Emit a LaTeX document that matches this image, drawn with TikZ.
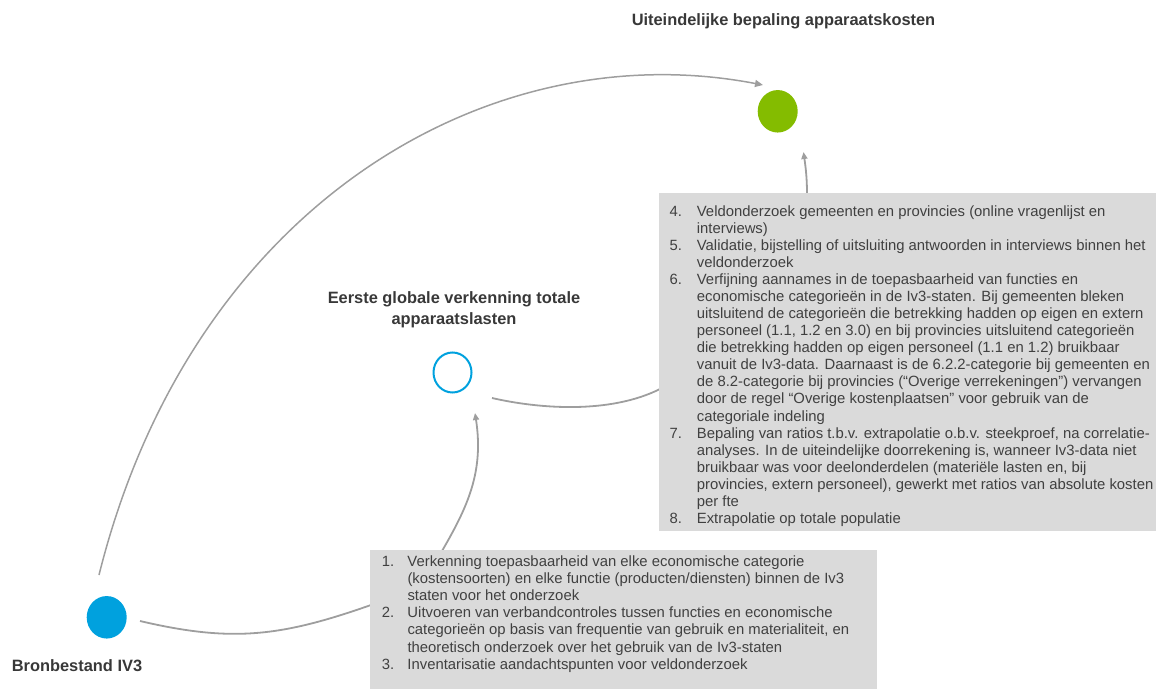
\documentclass[tikz,border=0pt]{standalone}
\usepackage{fontspec}
\setmainfont{Liberation Sans}
\usetikzlibrary{arrows.meta,shapes.geometric}
\definecolor{dotgreen}{HTML}{84BC00}
\definecolor{dotblue}{HTML}{00A1DE}
\definecolor{linegray}{HTML}{9E9E9E}
\definecolor{boxgray}{HTML}{DADADA}
\definecolor{txtgray}{HTML}{404040}
\definecolor{headgray}{HTML}{383838}
\newcommand{\numitem}[1]{\makebox[27.4pt][l]{#1}}
\newcommand{\contline}{\hspace*{27.4pt}}
\newcommand{\numitemb}[1]{\makebox[25.6pt][l]{#1}}
\newcommand{\contlineb}{\hspace*{25.6pt}}
\begin{document}
\begin{tikzpicture}[x=1pt,y=-1pt,
  conn/.style={draw=linegray, line width=1.8pt},
  bigarr/.style={draw=linegray, line width=1.5pt, -{Triangle[length=8pt,width=7pt]}},
  arr/.style={conn, -{Triangle[length=7pt,width=6pt]}},
  dotfill/.style={ellipse, minimum width=40pt, minimum height=42.5pt, inner sep=0pt, draw=none},
  graybox/.style={fill=boxgray, draw=none, inner sep=0pt, anchor=north west},
  heading/.style={font=\fontsize{16.4}{21.5}\selectfont\bfseries, text=headgray, align=center, inner sep=0pt},
  listtext/.style={font=\fontsize{14.85}{17.07}\selectfont, text=txtgray, align=left, inner sep=0pt, anchor=north west}
]
\useasboundingbox (0,0) rectangle (1156,688);

% connectors (drawn first)
\coordinate (bigs) at (99,575);
\coordinate (bige) at (763,85);
\draw[bigarr] (bigs) .. controls (191,206) and (488,32) .. (bige);

\coordinate (bots) at (140,621);
\coordinate (bote) at (371,605);
\draw[conn] (bots) .. controls (232,642.6) and (280.7,636.7) .. (bote);

\coordinate (ups) at (442,551);
\coordinate (upe) at (475,413);
\draw[arr] (ups) .. controls (467.5,507) and (484,472) .. (upe);

\coordinate (mids) at (492,398);
\coordinate (mide) at (660,389);
\draw[conn] (mids) .. controls (540,409) and (610,414) .. (mide);

\coordinate (tops) at (807,194);
\coordinate (tope) at (803.5,152);
\draw[arr] (tops) .. controls (807,175) and (805,163) .. (tope);

% dots
\node[dotfill, fill=dotgreen] (green) at (777.7,111.3) {};
\node[dotfill, fill=dotblue] (blue) at (106.7,617.3) {};
\node[ellipse, minimum width=38pt, minimum height=40pt, inner sep=0pt, draw=dotblue, line width=2pt] (hollow) at (452.5,372.5) {};

% headings
\node[heading, anchor=base] (h1) at (783.5,25) {Uiteindelijke bepaling apparaatskosten};
\node[heading, anchor=north] (h2) at (454,291) {Eerste globale verkenning totale\\apparaatslasten};
\node[heading, anchor=base] (h3) at (77,671.7) {Bronbestand IV3};

% boxes
\node[graybox, minimum width=497pt, minimum height=338pt] (box2) at (659,193) {};
\node[graybox, minimum width=507pt, minimum height=140pt] (box1) at (370,550) {};

\node[listtext] (list2) at (669.3,204.1) {\rule{0pt}{11.9pt}\numitem{4.}Veldonderzoek gemeenten en provincies (online vragenlijst en\\
\contline interviews)\\
\numitem{5.}Validatie, bijstelling of uitsluiting antwoorden in interviews binnen het\\
\contline veldonderzoek\\
\numitem{6.}Verfijning aannames in de toepasbaarheid van functies en\\
\contline economische categorieën in de Iv3-staten. Bij gemeenten bleken\\
\contline uitsluitend de categorieën die betrekking hadden op eigen en extern\\
\contline personeel (1.1, 1.2 en 3.0) en bij provincies uitsluitend categorieën\\
\contline die betrekking hadden op eigen personeel (1.1 en 1.2) bruikbaar\\
\contline vanuit de Iv3-data. Daarnaast is de 6.2.2-categorie bij gemeenten en\\
\contline de 8.2-categorie bij provincies (“Overige verrekeningen”) vervangen\\
\contline door de regel “Overige kostenplaatsen” voor gebruik van de\\
\contline categoriale indeling\\
\numitem{7.}Bepaling van ratios t.b.v. extrapolatie o.b.v. steekproef, na correlatie-\\
\contline analyses. In de uiteindelijke doorrekening is, wanneer Iv3-data niet\\
\contline bruikbaar was voor deelonderdelen (materiële lasten en, bij\\
\contline provincies, extern personeel), gewerkt met ratios van absolute kosten\\
\contline per fte\\
\numitem{8.}Extrapolatie op totale populatie};

\node[listtext] (list1) at (381.7,554.6) {\rule{0pt}{11.9pt}\numitemb{1.}Verkenning toepasbaarheid van elke economische categorie\\
\contlineb(kostensoorten) en elke functie (producten/diensten) binnen de Iv3\\
\contlineb staten voor het onderzoek\\
\numitemb{2.}Uitvoeren van verbandcontroles tussen functies en economische\\
\contlineb categorieën op basis van frequentie van gebruik en materialiteit, en\\
\contlineb theoretisch onderzoek over het gebruik van de Iv3-staten\\
\numitemb{3.}Inventarisatie aandachtspunten voor veldonderzoek};
\end{tikzpicture}
\end{document}
